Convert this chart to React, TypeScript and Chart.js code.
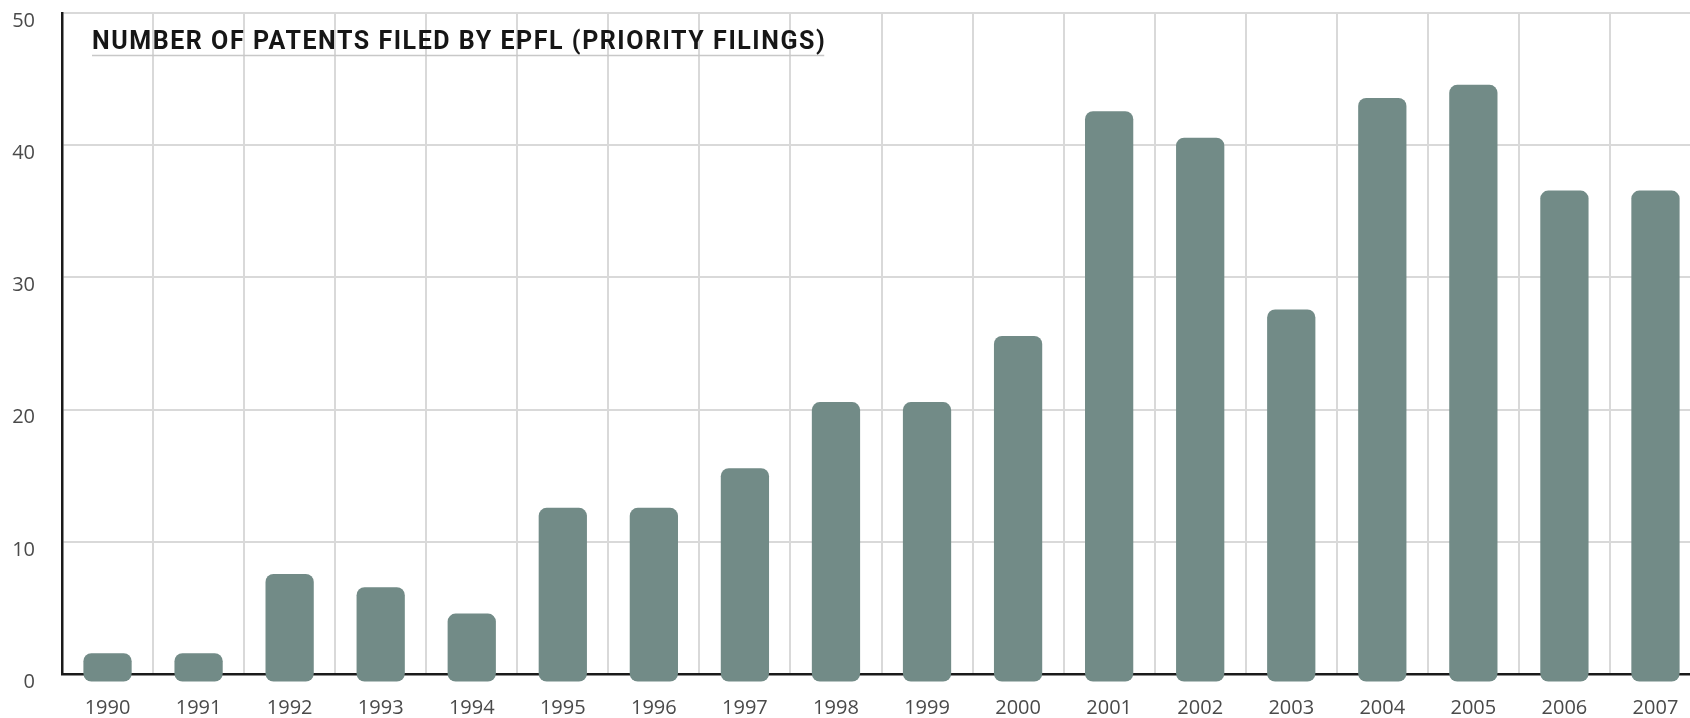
import React, { useEffect, useRef } from "react";
import { Chart, registerables } from "chart.js";

Chart.register(...registerables);

const years = ["1990","1991","1992","1993","1994","1995","1996","1997","1998","1999","2000","2001","2002","2003","2004","2005","2006","2007"];
const patents = [1, 1, 7, 6, 4, 12, 12, 15, 20, 20, 25, 42, 40, 27, 43, 44, 36, 36];
const yTicks = [0, 10, 20, 30, 40, 50];
const titleText = "NUMBER OF PATENTS FILED BY EPFL (PRIORITY FILINGS)";

const BAR_COLOR = "#728b87";
const GRID_COLOR = "#d9d9d9";
const PAD = 0.57;

const titlePlugin = {
  id: "titleInside",
  afterDraw(chart: any) {
    const ctx = chart.ctx;
    ctx.save();
    ctx.font = "700 25px Roboto";
    (ctx as any).letterSpacing = "1.55px";
    ctx.fillStyle = "#161616";
    ctx.textBaseline = "alphabetic";
    ctx.textAlign = "left";
    const x = 92;
    const y = 49;
    ctx.fillText(titleText, x, y);
    const w = ctx.measureText(titleText).width;
    ctx.strokeStyle = "#c8c8c8";
    ctx.lineWidth = 1.5;
    ctx.beginPath();
    ctx.moveTo(x, 55.5);
    ctx.lineTo(x + w - 2, 55.5);
    ctx.stroke();
    ctx.restore();
  },
};

export default function App() {
  const ref = useRef<HTMLCanvasElement>(null);
  useEffect(() => {
    if (!ref.current) return;
    const chart = new Chart(ref.current, {
      type: "bar",
      data: {
        labels: years,
        datasets: [
          {
            data: patents.map((v) => [-PAD, v + PAD]) as any,
            backgroundColor: BAR_COLOR,
            borderWidth: 0,
            borderRadius: 8,
            borderSkipped: false,
            barPercentage: 0.53,
            categoryPercentage: 1,
            clip: false as any,
          },
        ],
      },
      options: {
        animation: false,
        responsive: false,
        devicePixelRatio: 1,
        layout: { padding: { top: 13, right: 0, left: 0, bottom: 0 } },
        plugins: {
          legend: { display: false },
          tooltip: { enabled: false },
          title: { display: false },
        },
        scales: {
          x: {
            z: 1,
            grid: { color: GRID_COLOR, lineWidth: 2, drawTicks: false, offset: true },
            border: { color: "#1a1a1a", width: 2.5 },
            ticks: {
              color: "#4a4a4a",
              font: { family: "'Open Sans'", size: 20 },
              padding: 22,
              maxRotation: 0,
              autoSkip: false,
            },
            afterFit(scale: any) {
              scale.height = 44;
              scale.paddingLeft = 0;
              scale.paddingRight = 0;
            },
          },
          y: {
            min: 0,
            max: 50,
            grid: { color: GRID_COLOR, lineWidth: 2, drawTicks: false },
            border: { color: "#1a1a1a", width: 2.5 },
            afterBuildTicks(scale: any) {
              scale.ticks = yTicks.map((v) => ({ value: v }));
            },
            ticks: {
              color: "#4a4a4a",
              font: { family: "'Open Sans'", size: 20 },
              padding: 27,
              labelOffset: 8,
            },
            afterFit(scale: any) {
              scale.width = 62;
              scale.paddingTop = 0;
              scale.paddingBottom = 0;
            },
          },
        },
      },
      plugins: [titlePlugin],
    });
    return () => chart.destroy();
  }, []);
  return (
    <div
      style={{
        position: "fixed",
        left: 0,
        top: 0,
        width: 1690,
        height: 718,
        overflow: "hidden",
        background: "#ffffff",
      }}
    >
      <canvas ref={ref} width={1701} height={718} style={{ width: 1701, height: 718, display: "block" }} />
    </div>
  );
}
